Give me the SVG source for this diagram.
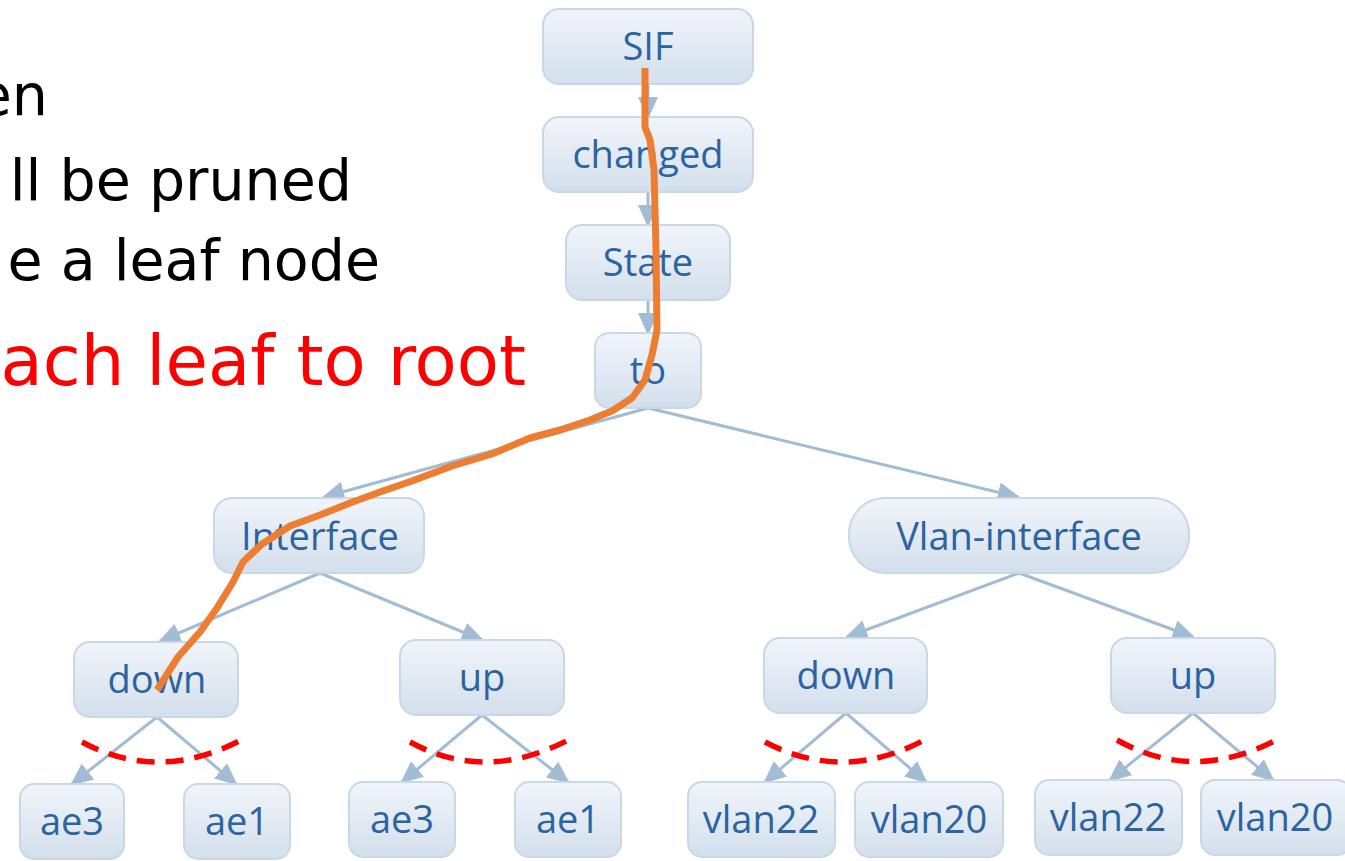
<svg xmlns="http://www.w3.org/2000/svg" width="1345" height="861" viewBox="0 0 1345 861">
<defs>
<linearGradient id="g" x1="0" y1="0" x2="0" y2="1">
<stop offset="0" stop-color="#f1f5fa"/>
<stop offset="1" stop-color="#d3dfec"/>
</linearGradient>
<marker id="ah" viewBox="0 0 10 10" refX="9" refY="5" markerWidth="7.5" markerHeight="7.5" markerUnits="strokeWidth" orient="auto">
<path d="M0,0.5 L10,5 L0,9.5 z" fill="#a3bcd6"/>
</marker>
<style>
.n{fill:url(#g);stroke:#c9d8e8;stroke-width:2}
.t{font-family:"Open Sans","Noto Sans",sans-serif;font-size:38px;fill:#2c64a0;text-anchor:middle}
.c line{stroke:#a3bcd6;stroke-width:3;marker-end:url(#ah)}
.cut{fill:none;stroke:#ff0000;stroke-width:5.5;stroke-dasharray:18 11}
.bk{font-family:"DejaVu Sans",sans-serif;font-size:57px;fill:#000;text-anchor:end}
.rd{font-family:"DejaVu Sans",sans-serif;font-size:69px;fill:#ff0000;text-anchor:end}
</style>
</defs>
<rect width="1345" height="861" fill="#fff"/>
<g id="caption">
<text class="bk" x="48" y="115">en</text>
<text class="bk" x="352" y="200">ll be pruned</text>
<text class="bk" x="380" y="280">e a leaf node</text>
<text class="rd" x="526" y="385">ach leaf to root</text>
</g>
<g class="c" id="connectors">
<line x1="648" y1="84" x2="648" y2="117"/>
<line x1="648" y1="192" x2="648" y2="225"/>
<line x1="648" y1="300" x2="648" y2="333"/>
<line x1="648" y1="408" x2="324" y2="497"/>
<line x1="648" y1="408" x2="1018" y2="497"/>
<line x1="320" y1="573" x2="160" y2="641"/>
<line x1="320" y1="573" x2="482" y2="640"/>
<line x1="1019" y1="573" x2="847" y2="637"/>
<line x1="1019" y1="573" x2="1193" y2="637"/>
<line x1="157" y1="717" x2="72" y2="784"/>
<line x1="157" y1="717" x2="236" y2="784"/>
<line x1="482" y1="715" x2="402" y2="782"/>
<line x1="482" y1="715" x2="568" y2="782"/>
<line x1="846" y1="713" x2="765" y2="782"/>
<line x1="846" y1="713" x2="926" y2="782"/>
<line x1="1193" y1="713" x2="1110" y2="780"/>
<line x1="1193" y1="713" x2="1273" y2="780"/>
</g>
<g id="n-sif"><rect class="n" x="543" y="9" width="210" height="75" rx="16"/><text class="t" x="648" y="60">SIF</text></g>
<g id="n-changed"><rect class="n" x="543" y="117" width="210" height="75" rx="16"/><text class="t" x="648" y="168">changed</text></g>
<g id="n-state"><rect class="n" x="566" y="225" width="164" height="75" rx="16"/><text class="t" x="648" y="276">State</text></g>
<g id="n-to"><rect class="n" x="595" y="333" width="106" height="75" rx="14"/><text class="t" x="648" y="384">to</text></g>
<g id="n-interface"><rect class="n" x="214" y="498" width="210" height="75" rx="18"/><text class="t" x="320" y="550">Interface</text></g>
<g id="n-vlan"><rect class="n" x="849" y="498" width="340" height="75" rx="36"/><text class="t" x="1019" y="550">Vlan-interface</text></g>
<g id="n-down1"><rect class="n" x="74" y="642" width="164" height="75" rx="16"/><text class="t" x="157" y="693">down</text></g>
<g id="n-up1"><rect class="n" x="400" y="640" width="164" height="75" rx="16"/><text class="t" x="482" y="691">up</text></g>
<g id="n-down2"><rect class="n" x="764" y="638" width="163" height="75" rx="16"/><text class="t" x="846" y="689">down</text></g>
<g id="n-up2"><rect class="n" x="1111" y="638" width="164" height="75" rx="16"/><text class="t" x="1193" y="689">up</text></g>
<g id="n-ae3a"><rect class="n" x="20" y="784" width="104" height="75" rx="14"/><text class="t" x="72" y="835">ae3</text></g>
<g id="n-ae1a"><rect class="n" x="184" y="784" width="106" height="75" rx="14"/><text class="t" x="237" y="835">ae1</text></g>
<g id="n-ae3b"><rect class="n" x="349" y="782" width="106" height="75" rx="14"/><text class="t" x="402" y="833">ae3</text></g>
<g id="n-ae1b"><rect class="n" x="515" y="782" width="106" height="75" rx="14"/><text class="t" x="568" y="833">ae1</text></g>
<g id="n-vlan22a"><rect class="n" x="688" y="782" width="147" height="75" rx="14"/><text class="t" x="761" y="833">vlan22</text></g>
<g id="n-vlan20a"><rect class="n" x="855" y="782" width="148" height="75" rx="14"/><text class="t" x="929" y="833">vlan20</text></g>
<g id="n-vlan22b"><rect class="n" x="1035" y="780" width="147" height="75" rx="14"/><text class="t" x="1108" y="831">vlan22</text></g>
<g id="n-vlan20b"><rect class="n" x="1201" y="780" width="150" height="75" rx="14"/><text class="t" x="1275" y="831">vlan20</text></g>
<g id="cuts">
<path class="cut" d="M82,742 Q160,784 245,738"/>
<path class="cut" d="M410,742 Q487,784 572,738"/>
<path class="cut" d="M765,742 Q845,784 928,738"/>
<path class="cut" d="M1117,740 Q1195,784 1280,738"/>
</g>
<path id="trace" fill="none" stroke="#ed7d31" stroke-width="7" stroke-linejoin="round" stroke-linecap="butt" d="M645,68 L645,127 L650,140 L654,170 L656,250 L657,330 L652,355 L645,380 L632,398 L612,411 L590,420 L560,430 L530,438 L492,454 L452,466 L412,481 L380,492 L350,503 L320,515 L290,526 L262,544 L243,562 L233,582 L217,608 L200,632 L178,657 L157,690"/>
</svg>
